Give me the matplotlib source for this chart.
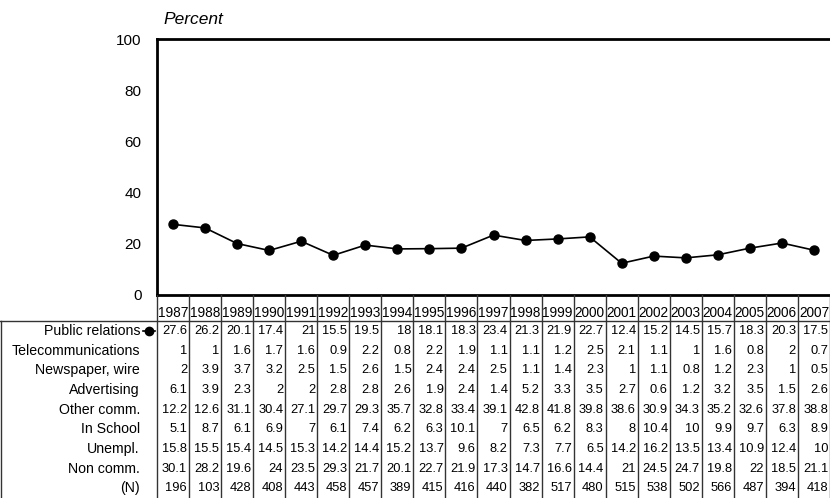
import matplotlib
matplotlib.use("Agg")
import matplotlib.pyplot as plt

plt.rcParams['font.family'] = ['Liberation Sans', 'DejaVu Sans']

years = list(range(1987, 2008))
public_relations = [27.6, 26.2, 20.1, 17.4, 21, 15.5, 19.5, 18, 18.1, 18.3, 23.4,
                    21.3, 21.9, 22.7, 12.4, 15.2, 14.5, 15.7, 18.3, 20.3, 17.5]
telecom = [1, 1, 1.6, 1.7, 1.6, 0.9, 2.2, 0.8, 2.2, 1.9, 1.1,
           1.1, 1.2, 2.5, 2.1, 1.1, 1, 1.6, 0.8, 2, 0.7]
newspaper = [2, 3.9, 3.7, 3.2, 2.5, 1.5, 2.6, 1.5, 2.4, 2.4, 2.5,
             1.1, 1.4, 2.3, 1, 1.1, 0.8, 1.2, 2.3, 1, 0.5]
advertising = [6.1, 3.9, 2.3, 2, 2, 2.8, 2.8, 2.6, 1.9, 2.4, 1.4,
               5.2, 3.3, 3.5, 2.7, 0.6, 1.2, 3.2, 3.5, 1.5, 2.6]
other_comm = [12.2, 12.6, 31.1, 30.4, 27.1, 29.7, 29.3, 35.7, 32.8, 33.4, 39.1,
              42.8, 41.8, 39.8, 38.6, 30.9, 34.3, 35.2, 32.6, 37.8, 38.8]
in_school = [5.1, 8.7, 6.1, 6.9, 7, 6.1, 7.4, 6.2, 6.3, 10.1, 7,
             6.5, 6.2, 8.3, 8, 10.4, 10, 9.9, 9.7, 6.3, 8.9]
unempl = [15.8, 15.5, 15.4, 14.5, 15.3, 14.2, 14.4, 15.2, 13.7, 9.6, 8.2,
          7.3, 7.7, 6.5, 14.2, 16.2, 13.5, 13.4, 10.9, 12.4, 10]
non_comm = [30.1, 28.2, 19.6, 24, 23.5, 29.3, 21.7, 20.1, 22.7, 21.9, 17.3,
            14.7, 16.6, 14.4, 21, 24.5, 24.7, 19.8, 22, 18.5, 21.1]
n_resp = [196, 103, 428, 408, 443, 458, 457, 389, 415, 416, 440,
          382, 517, 480, 515, 538, 502, 566, 487, 394, 418]

row_labels = ["Public relations", "Telecommunications", "Newspaper, wire", "Advertising",
              "Other comm.", "In School", "Unempl.", "Non comm.", "(N)"]
rows = [public_relations, telecom, newspaper, advertising, other_comm,
        in_school, unempl, non_comm, n_resp]

W, H = 830, 498
fig = plt.figure(figsize=(W / 100, H / 100), dpi=100)

# geometry in pixels
x0 = 157
ncol = len(years)
colw = (W - x0) / ncol
axis_y = 295
top_y = 39

ax = fig.add_axes([x0 / W, (H - axis_y) / H, (W - x0) / W, (axis_y - top_y) / H])
xs = [i + 0.5 for i in range(ncol)]
ax.plot(xs, public_relations, color='black', lw=1.2, marker='o', ms=6.5)
ax.set_xlim(0, ncol)
ax.set_ylim(0, 100)
ax.set_yticks([0, 20, 40, 60, 80, 100])
ax.set_xticks([])
ax.tick_params(axis='y', length=0, pad=11, labelsize=11)
for s in ['top', 'left', 'bottom']:
    ax.spines[s].set_linewidth(2)
ax.spines['right'].set_visible(False)
ax.text(0.01, 1.045, "Percent", transform=ax.transAxes, fontsize=12.5, style='italic',
        ha='left', va='bottom')

# table below, in pixel-ish units
tab = fig.add_axes([0, 0, 1, (H - axis_y) / H])
tab.set_xlim(-x0 / colw, ncol)
tab.set_ylim(H - axis_y, 0)
tab.axis('off')
lc = '#333333'
header_bot = 26
rowh = (H - axis_y - header_bot) / len(rows)

for i in range(ncol + 1):
    tab.plot([i, i], [0, H - axis_y], color=lc, lw=1)
tab.plot([-x0 / colw, ncol], [header_bot, header_bot], color=lc, lw=1)
tab.plot([-x0 / colw + 0.02, -x0 / colw + 0.02], [header_bot, H - axis_y], color=lc, lw=1)

for i, y in enumerate(years):
    tab.text(i + 0.5, 18, str(y), ha='center', va='center', fontsize=9.8)

for r, (lab, vals) in enumerate(zip(row_labels, rows)):
    yc = header_bot + rowh * (r + 0.5)
    tab.text(-17 / colw, yc, lab, ha='right', va='center', fontsize=10.2)
    for i, v in enumerate(vals):
        tab.text(i + 0.94, yc, f"{v:g}", ha='right', va='center', fontsize=9.3)

yc0 = header_bot + rowh * 0.5
tab.plot([-14 / colw, -2 / colw], [yc0, yc0], color='black', lw=1.2)
tab.plot([-8 / colw], [yc0], color='black', marker='o', ms=6)

fig.savefig("out.png", dpi=100)
